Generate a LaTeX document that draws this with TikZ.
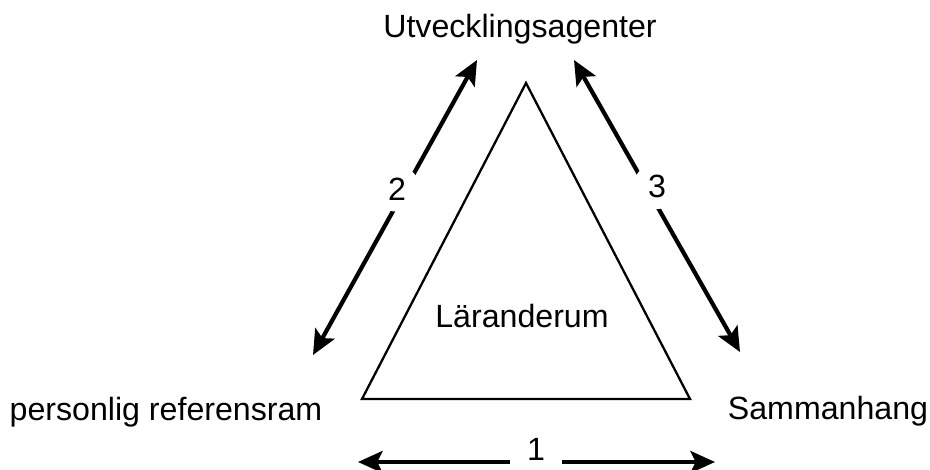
\documentclass[tikz,border=0pt]{standalone}
\usepackage{fontspec}
\setmainfont{Liberation Sans}
\usetikzlibrary{arrows.meta}

\begin{document}
\begin{tikzpicture}[x=0.02cm, y=-0.02cm, font=\fontsize{18.3}{22}\selectfont]
\tikzset{
  label/.style={inner sep=0pt, anchor=base},
  pilen/.style={line width=2.4pt, {Stealth[length=14pt,width=12.5pt,inset=3pt]}-{Stealth[length=14pt,width=12.5pt,inset=3pt]}},
  nummer/.style={circle, fill=white, inner sep=3.5pt, anchor=base}
}
\useasboundingbox (0,0) rectangle (930,470);

% Arrows between the corners
\coordinate (a2s) at (313, 355);
\coordinate (a2e) at (477, 60);
\coordinate (a3s) at (574, 60);
\coordinate (a3e) at (740, 352);
\coordinate (a1s) at (358, 462);
\coordinate (a1e) at (715, 462);
\draw[pilen] (a2s) -- (a2e);
\draw[pilen] (a3s) -- (a3e);
\draw[pilen] (a1s) -- (a1e);
\node[nummer] (n2) at (397, 200) {2};
\node[nummer] (n3) at (657, 197) {3};
\node[nummer, rectangle, inner xsep=0pt, inner ysep=3pt, minimum width=30pt] (n1) at (536, 460) {1};

% Triangle in the middle
\coordinate (topp) at (526, 83);
\coordinate (vanster) at (362, 399);
\coordinate (hoger) at (690, 399);
\draw[line width=1.3pt, line join=miter] (topp) -- (vanster) -- (hoger) -- cycle;
\node[label] (larande) at (522, 327) {Läranderum};

% The three corners
\node[label] (agenter) at (520, 37) {Utvecklingsagenter};
\node[label] (ram) at (166, 420) {personlig referensram};
\node[label] (sammanhang) at (828, 419) {Sammanhang};
\end{tikzpicture}
\end{document}
